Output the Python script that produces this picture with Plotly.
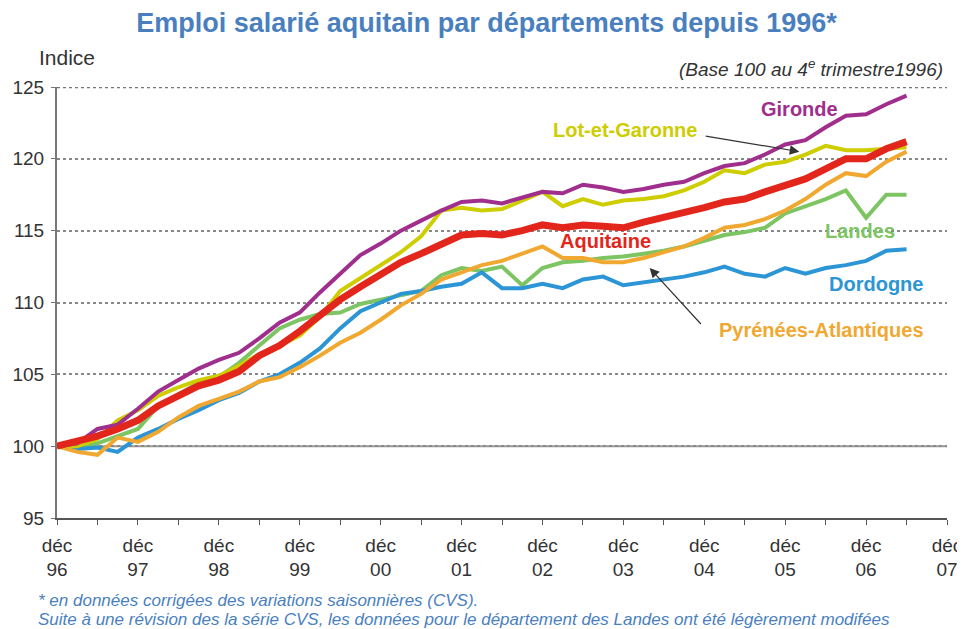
import plotly.graph_objects as go

# Quarterly index, Q4 1996 (déc 96) = 0 ... Q2 2007 = 42
quarters = list(range(43))

gironde = [100, 100.2, 101.2, 101.5, 102.6, 103.8, 104.6, 105.4, 106.0, 106.5,
           107.5, 108.6, 109.3, 110.7, 112.0, 113.3, 114.1, 115.0, 115.7, 116.4,
           117.0, 117.1, 116.9, 117.3, 117.7, 117.6, 118.2, 118.0, 117.7, 117.9,
           118.2, 118.4, 119.0, 119.5, 119.7, 120.3, 121.0, 121.3, 122.2, 123.0,
           123.1, 123.8, 124.4]
lot_et_garonne = [100, 100.0, 100.5, 101.8, 102.5, 103.5, 104.1, 104.6, 104.9, 105.6,
                  106.4, 107.0, 107.7, 109.0, 110.8, 111.7, 112.6, 113.5, 114.6, 116.4,
                  116.6, 116.4, 116.5, 117.1, 117.7, 116.7, 117.2, 116.8, 117.1, 117.2,
                  117.4, 117.8, 118.4, 119.2, 119.0, 119.6, 119.8, 120.3, 120.9, 120.6,
                  120.6, 120.7, 120.8]
aquitaine = [100, 100.3, 100.7, 101.2, 101.8, 102.8, 103.5, 104.2, 104.6, 105.2,
             106.3, 107.0, 108.0, 109.1, 110.2, 111.1, 112.0, 112.8, 113.4, 114.1,
             114.7, 114.8, 114.7, 115.0, 115.4, 115.2, 115.4, 115.3, 115.2, 115.6,
             115.9, 116.2, 116.6, 117.0, 117.2, 117.7, 118.2, 118.6, 119.3, 120.0,
             120.0, 120.7, 121.2]
landes = [100, 99.9, 100.2, 100.7, 101.2, 102.8, 103.6, 104.4, 104.8, 105.8,
          107.0, 108.2, 108.8, 109.2, 109.3, 109.9, 110.2, 110.5, 110.8, 111.9,
          112.4, 112.2, 112.5, 111.2, 112.4, 112.8, 112.9, 113.1, 113.2, 113.4,
          113.6, 113.9, 114.3, 114.7, 114.9, 115.2, 116.2, 116.7, 117.2, 117.8,
          115.9, 117.5, 117.5]
dordogne = [100, 99.8, 99.9, 99.6, 100.6, 101.2, 101.9, 102.5, 103.2, 103.7,
            104.5, 105.0, 105.8, 106.8, 108.2, 109.4, 110.0, 110.6, 110.8, 111.1,
            111.3, 112.1, 111.0, 111.0, 111.3, 111.0, 111.6, 111.8, 111.2, 111.4,
            111.6, 111.8, 112.1, 112.5, 112.0, 111.8, 112.4, 112.0, 112.4, 112.6,
            112.9, 113.6, 113.7]
pyrenees_atl = [100, 99.6, 99.4, 100.6, 100.3, 101.0, 102.0, 102.8, 103.3, 103.8,
                104.5, 104.8, 105.5, 106.3, 107.2, 107.9, 108.8, 109.8, 110.6, 111.6,
                112.1, 112.6, 112.9, 113.4, 113.9, 113.1, 113.1, 112.8, 112.8, 113.1,
                113.5, 113.9, 114.5, 115.2, 115.4, 115.8, 116.4, 117.2, 118.2, 119.0,
                118.8, 119.8, 120.5]

tick_positions = list(range(0, 45, 2))
year_labels = ["déc<br>96", "déc<br>97", "déc<br>98", "déc<br>99", "déc<br>00", "déc<br>01",
               "déc<br>02", "déc<br>03", "déc<br>04", "déc<br>05", "déc<br>06", "déc<br>07"]
tick_texts = [year_labels[p // 4] if p % 4 == 0 else "" for p in tick_positions]
y_ticks = [95, 100, 105, 110, 115, 120, 125]

series = [
    ("Landes", landes, "#7dc462", 4),
    ("Dordogne", dordogne, "#2b95d6", 4),
    ("Pyrénées-Atlantiques", pyrenees_atl, "#f0a830", 4),
    ("Lot-et-Garonne", lot_et_garonne, "#cdcd00", 4),
    ("Gironde", gironde, "#a02e8c", 4),
    ("Aquitaine", aquitaine, "#e3261c", 7),
]

fig = go.Figure()
for name, vals, col, w in series:
    fig.add_trace(go.Scatter(x=quarters, y=vals, mode="lines", name=name,
                             line=dict(color=col, width=w), showlegend=False))

FONT = "Liberation Sans, Arial, sans-serif"
fig.update_layout(
    width=957, height=621,
    margin=dict(l=49, r=18, t=79, b=111, autoexpand=False),
    plot_bgcolor="white", paper_bgcolor="white",
    font=dict(family=FONT, color="#333333"),
    title=dict(text="<b>Emploi salarié aquitain par départements depuis 1996*</b>",
               x=0.5, xanchor="center", y=0.977, yanchor="middle",
               font=dict(size=27, color="#4a7fbf", family=FONT)),
    xaxis=dict(range=[0, 44], tickmode="array", tickvals=tick_positions, ticktext=tick_texts,
               showgrid=False, zeroline=False, showline=True, linecolor="#555555", linewidth=1.5,
               ticks="outside", ticklen=5, tickcolor="#555555", automargin=False,
               ticklabelstandoff=4,
               tickfont=dict(size=19, color="#333333")),
    yaxis=dict(range=[95, 125], tickmode="array", tickvals=y_ticks,
               showgrid=True, gridcolor="#888888", gridwidth=1.5, griddash="dot",
               zeroline=False, showline=True, linecolor="#777777", linewidth=2,
               ticks="outside", ticklen=4, tickcolor="#777777", automargin=False,
               ticklabelstandoff=3,
               tickfont=dict(size=19, color="#333333")),
)

# solid reference line at 100 and dotted top border at 125
fig.add_shape(type="line", xref="paper", yref="y", x0=0, x1=1, y0=100, y1=100,
              line=dict(color="#999999", width=2), layer="below")
fig.add_shape(type="line", xref="paper", yref="y", x0=0, x1=1, y0=125, y1=125,
              line=dict(color="#777777", width=2.5, dash="dot"), layer="below")

def lbl(text, x, y, color):
    fig.add_annotation(x=x, y=y, xref="x", yref="y", text="<b>" + text + "</b>",
                       showarrow=False, font=dict(size=20, color=color, family=FONT))

lbl("Gironde", 36.7, 123.5, "#a02e8c")
lbl("Lot-et-Garonne", 28.1, 122.0, "#cdcd00")
lbl("Aquitaine", 27.1, 114.3, "#e3261c")
lbl("Landes", 39.7, 115.0, "#7dc462")
lbl("Dordogne", 40.5, 111.3, "#2b95d6")
lbl("Pyrénées-Atlantiques", 37.8, 108.1, "#f0a830")

# arrows
fig.add_annotation(x=36.7, y=120.5, ax=32.0, ay=121.6, xref="x", yref="y", axref="x", ayref="y",
                   text="", showarrow=True, arrowhead=2, arrowsize=1.6, arrowwidth=1.2, arrowcolor="#333333")
fig.add_annotation(x=29.3, y=112.4, ax=31.9, ay=108.4, xref="x", yref="y", axref="x", ayref="y",
                   text="", showarrow=True, arrowhead=2, arrowsize=1.6, arrowwidth=1.2, arrowcolor="#333333")

fig.add_annotation(x=-0.0225, y=1.0696, xref="paper", yref="paper", text="Indice", showarrow=False,
                   xanchor="left", yanchor="middle", font=dict(size=21, color="#333333"))
fig.add_annotation(x=0.998, y=1.044, xref="paper", yref="paper",
                   text="<i>(Base 100 au 4<sup>e</sup> trimestre1996)</i>",
                   showarrow=False, xanchor="right", yanchor="middle",
                   font=dict(size=19, color="#333333"))
fig.add_annotation(x=-0.0225, y=-0.1903, xref="paper", yref="paper",
                   text="<i>* en données corrigées des variations saisonnières (CVS).</i>",
                   showarrow=False, xanchor="left", yanchor="middle", borderpad=0,
                   font=dict(size=17, color="#4a7fbf"))
fig.add_annotation(x=-0.0225, y=-0.2366, xref="paper", yref="paper",
                   text="<i>Suite à une révision des la série CVS, les données pour le département des Landes ont été légèrement modifées</i>",
                   showarrow=False, xanchor="left", yanchor="middle", borderpad=0,
                   font=dict(size=17, color="#4a7fbf"))

fig.write_html("out.html")
